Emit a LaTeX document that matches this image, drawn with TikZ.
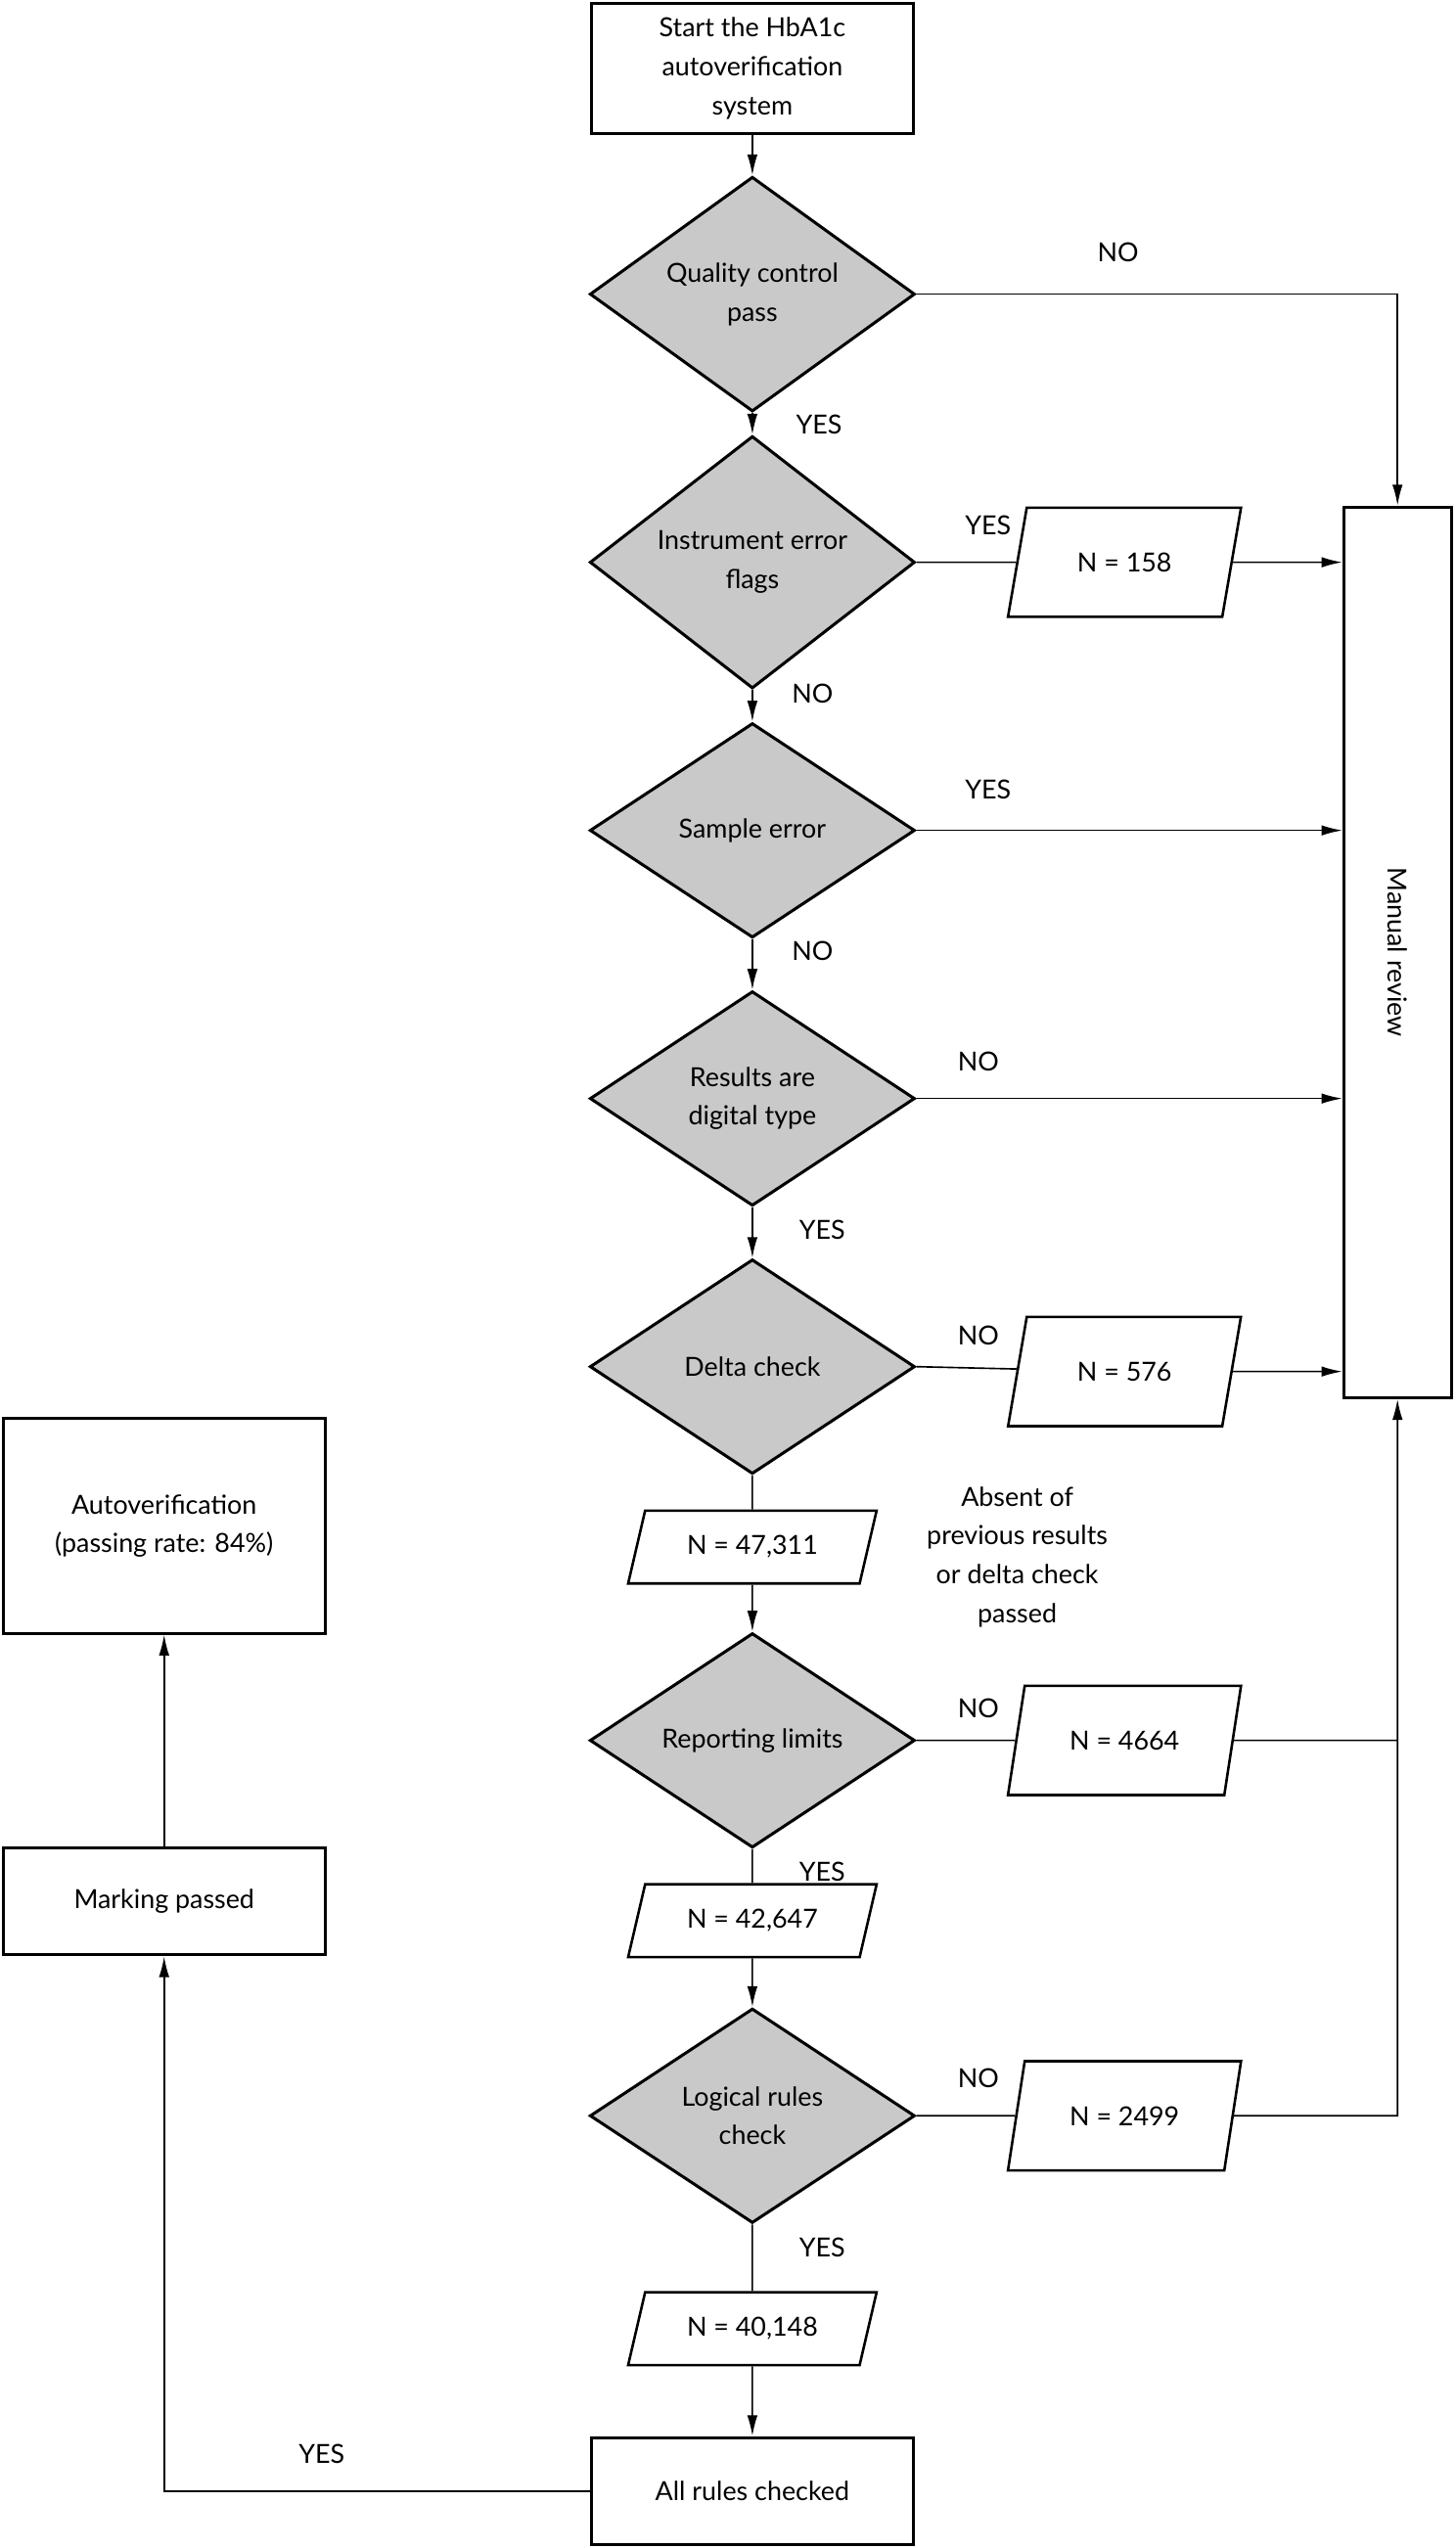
\documentclass[tikz,border=0pt]{standalone}
\usepackage{fontspec}
\setmainfont{Lato}
\usetikzlibrary{shapes.geometric}
\usetikzlibrary{arrows.meta}
\usetikzlibrary{positioning}
\begin{document}
\begin{tikzpicture}[x=0.025cm,y=-0.025cm,
  font=\fontsize{11.5}{17}\selectfont,
  box/.style={draw,line width=1.3pt,align=center,inner sep=0pt},
  test/.style={draw,diamond,fill=gray!42,line width=1.3pt,align=center,
    minimum width=5cm,minimum height=3.3cm,inner sep=0pt},
  count/.style={draw,trapezium,trapezium left angle=73,trapezium right angle=107,
    trapezium stretches=true,line width=1.1pt,minimum width=3.6cm,minimum height=1.68cm},
  small/.style={count,minimum width=3.85cm,minimum height=1.12cm},
  line/.style={line width=0.7pt},
  arr/.style={line,-{Latex[length=3.2mm,width=1.6mm]}}]
  \useasboundingbox (0,0) rectangle (896,1568);
  % main column
  \node[box,minimum width=4.95cm,minimum height=2cm] (start) at (463,42) {Start the HbA1c\\autoverification\\system};
  \node[test] (qc) at (463,181) {Quality control\\pass};
  \node[test] (flag) at (463,346) {Instrument error\\flags};
  \node[test] (sample) at (463,511) {Sample error};
  \node[test] (digit) at (463,676) {Results are\\digital type};
  \node[test] (delta) at (463,841) {Delta check};
  \node[small] (n1) at (463,952) {N = 47,311};
  \node[test] (limit) at (463,1071) {Reporting limits};
  \node[small] (n2) at (463,1182) {N = 42,647};
  \node[test] (logic) at (463,1302) {Logical rules\\check};
  \node[small] (n3) at (463,1433) {N = 40,148};
  \node[box,minimum width=4.95cm,minimum height=1.65cm] (all) at (463,1533) {All rules checked};
  % right side
  \node[box,minimum width=1.65cm,minimum height=13.7cm] (review) at (860,586) {};
  \node[rotate=-90] (reviewtxt) at (review.center) {Manual review};
  \node[count] (r1) at (692,346) {N = 158};
  \node[count] (r2) at (692,844) {N = 576};
  \node[count] (r3) at (692,1071) {N = 4664};
  \node[count] (r4) at (692,1302) {N = 2499};
  \coordinate (qcturn) at (860,181);
  \coordinate (j3) at (860,1071);
  \coordinate (j4) at (860,1302);
  % left side
  \node[box,minimum width=4.95cm,minimum height=3.3cm] (auto) at (101,939) {Autoverification\\(passing rate: 84\%)};
  \node[box,minimum width=4.95cm,minimum height=1.65cm] (mark) at (101,1170) {Marking passed};
  \coordinate (allturn) at (101,1533);
  % connectors
  \draw[arr] (start) -- (qc);
  \draw[arr] (qc) -- (flag);
  \draw[arr] (flag) -- (sample);
  \draw[arr] (sample) -- (digit);
  \draw[arr] (digit) -- (delta);
  \draw[line] (delta) -- (n1);
  \draw[arr] (n1) -- (limit);
  \draw[line] (limit) -- (n2);
  \draw[arr] (n2) -- (logic);
  \draw[line] (logic) -- (n3);
  \draw[arr] (n3) -- (all);
  \draw[arr] (qc.east) -- (qcturn) -- (review.north);
  \draw[line] (flag.east) -- (r1);
  \draw[arr] (r1) -- (r1 -| review.west);
  \draw[arr] (sample.east) -- (sample -| review.west);
  \draw[arr] (digit.east) -- (digit -| review.west);
  \draw[line] (delta.east) -- (r2);
  \draw[arr] (r2) -- (r2 -| review.west);
  \draw[line] (limit.east) -- (r3);
  \draw[line] (r3) -- (j3);
  \draw[line] (logic.east) -- (r4);
  \draw[arr] (r4) -- (j4) -- (review.south);
  \draw[arr] (all.west) -- (allturn) -- (mark.south);
  \draw[arr] (mark) -- (auto);
  % labels
  \node (l1) at (688,155) {NO};
  \node (l2) at (504,261) {YES};
  \node (l3) at (608,323) {YES};
  \node (l4) at (500,427) {NO};
  \node (l5) at (608,486) {YES};
  \node (l6) at (500,585) {NO};
  \node (l7) at (602,653) {NO};
  \node (l8) at (506,757) {YES};
  \node (l9) at (602,822) {NO};
  \node[align=center] (l10) at (626,958) {Absent of\\previous results\\or delta check\\passed};
  \node (l11) at (602,1051) {NO};
  \node (l12) at (506,1152) {YES};
  \node (l13) at (602,1279) {NO};
  \node (l14) at (506,1383) {YES};
  \node (l15) at (198,1510) {YES};
\end{tikzpicture}
\end{document}
